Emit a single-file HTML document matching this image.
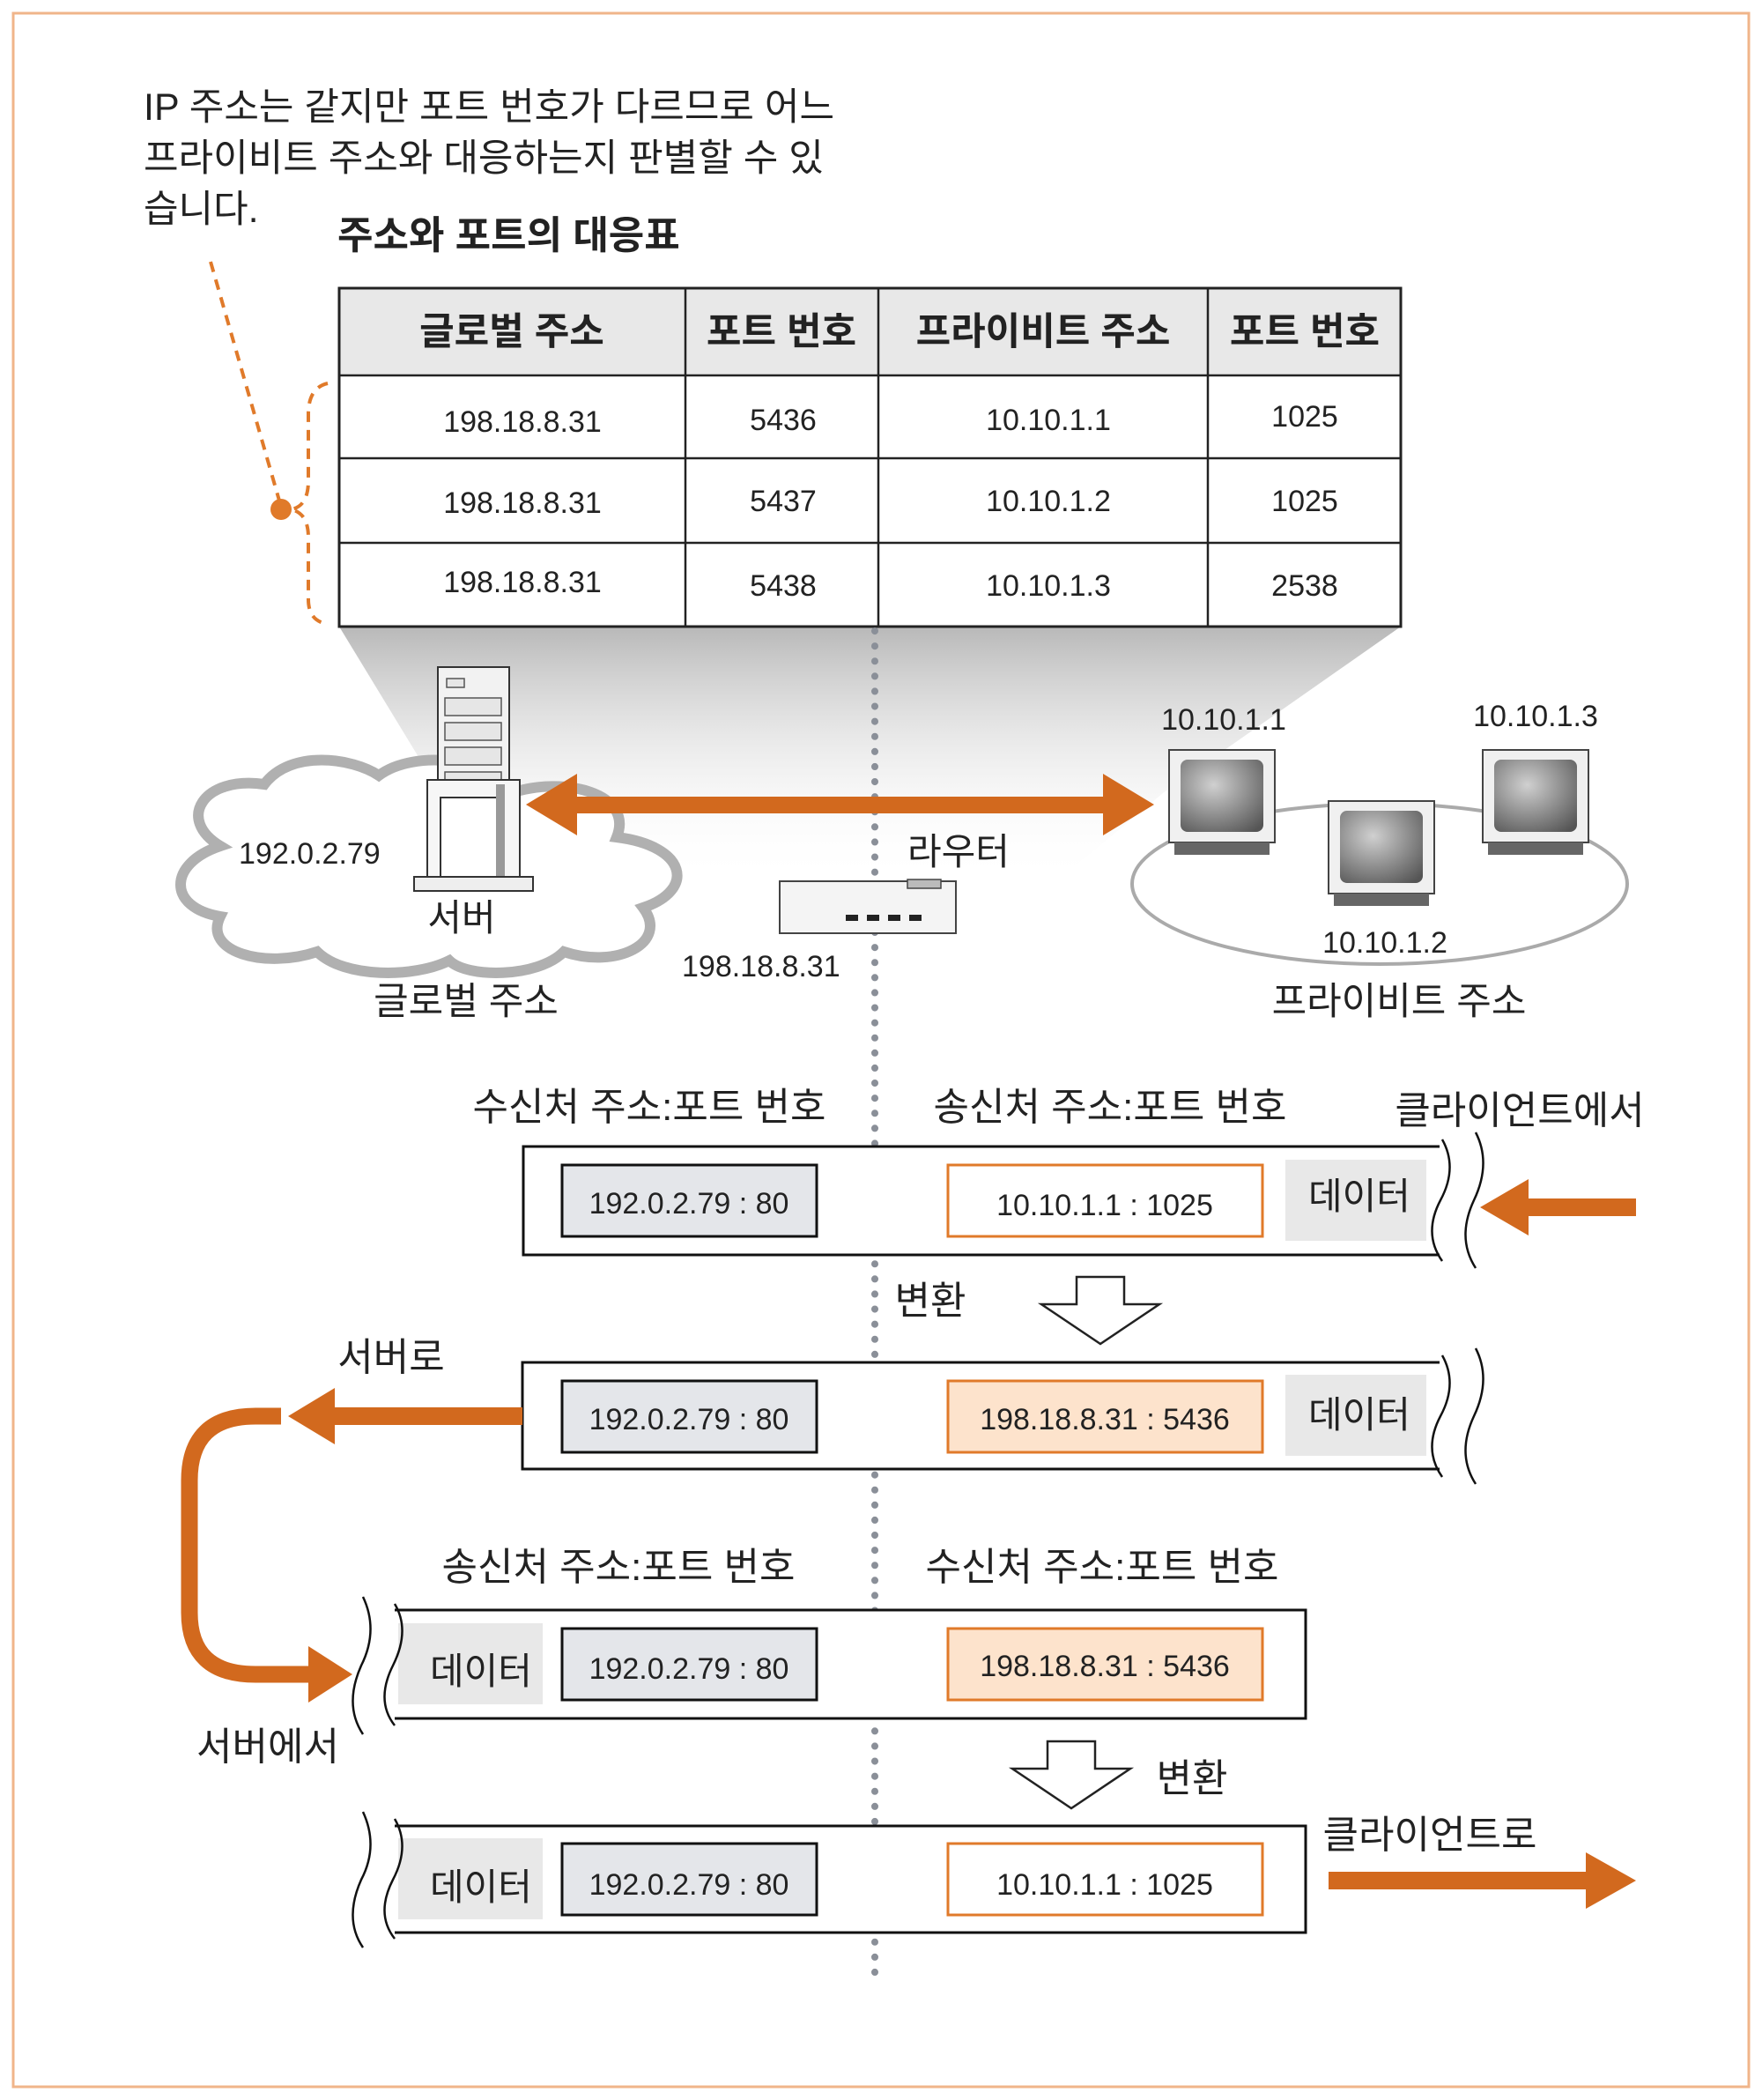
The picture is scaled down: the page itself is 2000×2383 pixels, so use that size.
<!DOCTYPE html>
<html><head><meta charset="utf-8"><style>
html,body{margin:0;padding:0;background:#fff}
svg{display:block}
text{font-family:"Liberation Sans","Noto Sans CJK KR",sans-serif;fill:#222}
</style></head><body>
<svg width="2000" height="2383" viewBox="0 0 2000 2383" xmlns="http://www.w3.org/2000/svg">
<defs>
<linearGradient id="sh" x1="0" y1="0" x2="0" y2="1">
<stop offset="0" stop-color="#b8b8b8"/><stop offset="1" stop-color="#ffffff" stop-opacity="0"/>
</linearGradient>
<radialGradient id="scr" cx="0.4" cy="0.35" r="0.8"><stop offset="0" stop-color="#d0d0d0"/><stop offset="1" stop-color="#555"/></radialGradient>
</defs>
<rect x="15" y="15" width="1970" height="2353" fill="#fff" stroke="#f0b58a" stroke-width="3"/>

<!-- caption -->
<text x="163" y="136" font-size="43">IP 주소는 같지만 포트 번호가 다르므로 어느</text>
<text x="163" y="194" font-size="43">프라이비트 주소와 대응하는지 판별할 수 있</text>
<text x="163" y="252" font-size="43">습니다.</text>
<text x="383" y="282" font-size="44" font-weight="bold">주소와 포트의 대응표</text>

<!-- dashed callout -->
<path d="M239 297 L319 575" stroke="#e07a2a" stroke-width="4" stroke-dasharray="12 9" fill="none"/>
<circle cx="319" cy="578" r="12" fill="#e07a2a"/>
<path d="M372 435 Q350 440 350 470 L350 545 Q350 575 330 578 Q350 582 350 610 L350 680 Q350 705 372 708" stroke="#e07a2a" stroke-width="4" stroke-dasharray="12 9" fill="none"/>

<!-- shadow under table -->
<polygon points="385,711 1590,711 1320,900 1200,1000 600,1000 500,900" fill="url(#sh)"/>

<!-- table -->
<rect x="385" y="327" width="1205" height="99" fill="#e8e8e8"/>
<rect x="385" y="327" width="1205" height="384" fill="none" stroke="#222" stroke-width="3"/>
<g stroke="#222" stroke-width="2.5">
<line x1="778" y1="327" x2="778" y2="711"/><line x1="997" y1="327" x2="997" y2="711"/><line x1="1371" y1="327" x2="1371" y2="711"/>
<line x1="385" y1="426" x2="1590" y2="426"/><line x1="385" y1="520" x2="1590" y2="520"/><line x1="385" y1="616" x2="1590" y2="616"/>
</g>
<g font-size="43" font-weight="bold" text-anchor="middle">
<text x="581" y="391">글로벌 주소</text><text x="887" y="391">포트 번호</text><text x="1184" y="391">프라이비트 주소</text><text x="1481" y="391">포트 번호</text>
</g>
<g font-size="34" text-anchor="middle">
<text x="593" y="490">198.18.8.31</text><text x="889" y="488">5436</text><text x="1190" y="488">10.10.1.1</text><text x="1481" y="484">1025</text>
<text x="593" y="582">198.18.8.31</text><text x="889" y="580">5437</text><text x="1190" y="580">10.10.1.2</text><text x="1481" y="580">1025</text>
<text x="593" y="672">198.18.8.31</text><text x="889" y="676">5438</text><text x="1190" y="676">10.10.1.3</text><text x="1481" y="676">2538</text>
</g>

<!-- dotted line -->
<line x1="993" y1="716" x2="993" y2="2252" stroke="#8a8f98" stroke-width="8" stroke-linecap="round" stroke-dasharray="0.1 17"/>

<!-- cloud -->
<path d="M250 960 C200 930 230 880 300 890 C330 850 400 860 430 880 C470 850 560 860 580 900 C640 880 720 900 700 950 C780 960 790 1010 730 1030 C760 1070 700 1100 640 1080 C610 1110 530 1110 510 1090 C470 1110 390 1110 360 1080 C300 1100 230 1080 250 1040 C190 1030 190 980 250 960 Z" fill="#fff" stroke="#b0b0b0" stroke-width="12"/>
<!-- server -->
<rect x="497" y="757" width="81" height="250" fill="#f2f2f2" stroke="#333" stroke-width="2"/>
<g fill="#e6e6e6" stroke="#555" stroke-width="1.5">
<rect x="507" y="770" width="20" height="10"/><rect x="505" y="792" width="64" height="20"/><rect x="505" y="820" width="64" height="20"/><rect x="505" y="848" width="64" height="20"/><rect x="505" y="876" width="64" height="20"/>
</g>
<path d="M485 885 L590 885 L590 1011 L485 1011 Z" fill="#f6f6f6" stroke="#333" stroke-width="2"/>
<rect x="500" y="905" width="70" height="106" fill="#fff" stroke="#333" stroke-width="2"/>
<rect x="563" y="890" width="10" height="121" fill="#999"/>
<rect x="470" y="995" width="135" height="16" fill="#eee" stroke="#333" stroke-width="2"/>
<text x="271" y="980" font-size="34">192.0.2.79</text>
<text x="524" y="1056" font-size="42" text-anchor="middle">서버</text>
<text x="529" y="1151" font-size="43" text-anchor="middle">글로벌 주소</text>

<!-- double arrow -->
<rect x="640" y="904" width="625" height="19" fill="#d2691e"/>
<polygon points="597,913 655,878 655,948" fill="#d2691e"/>
<polygon points="1310,913 1252,878 1252,948" fill="#d2691e"/>

<!-- router -->
<rect x="885" y="1000" width="200" height="59" fill="#f4f4f4" stroke="#444" stroke-width="2"/>
<rect x="1030" y="998" width="38" height="10" fill="#bbb" stroke="#444" stroke-width="1.5"/>
<g fill="#222"><rect x="960" y="1038" width="14" height="7"/><rect x="984" y="1038" width="14" height="7"/><rect x="1008" y="1038" width="14" height="7"/><rect x="1032" y="1038" width="14" height="7"/></g>
<text x="1030" y="981" font-size="42">라우터</text>
<text x="774" y="1108" font-size="34">198.18.8.31</text>

<!-- LAN -->
<ellipse cx="1566" cy="1003" rx="281" ry="91" fill="none" stroke="#aaa" stroke-width="4"/>
<g id="mon">
<rect x="1327" y="851" width="120" height="105" fill="#f0f0f0" stroke="#444" stroke-width="2"/>
<rect x="1340" y="862" width="94" height="82" rx="8" fill="url(#scr)"/>
<rect x="1333" y="956" width="108" height="14" fill="#666"/>
</g>
<use href="#mon" x="356" y="0"/>
<use href="#mon" x="181" y="58"/>
<text x="1389" y="828" font-size="34" text-anchor="middle">10.10.1.1</text>
<text x="1743" y="824" font-size="34" text-anchor="middle">10.10.1.3</text>
<text x="1572" y="1081" font-size="34" text-anchor="middle">10.10.1.2</text>
<text x="1588" y="1151" font-size="43" text-anchor="middle">프라이비트 주소</text>

<!-- headers -->
<g font-size="44" text-anchor="middle">
<text x="737" y="1271">수신처 주소:포트 번호</text>
<text x="1260" y="1271">송신처 주소:포트 번호</text>
<text x="1725" y="1275">클라이언트에서</text>
<text x="702" y="1793">송신처 주소:포트 번호</text>
<text x="1251" y="1793">수신처 주소:포트 번호</text>
<text x="444" y="1555">서버로</text>
<text x="304" y="1997">서버에서</text>
<text x="1623" y="2097">클라이언트로</text>
<text x="1056" y="1491">변환</text>
<text x="1353" y="2033">변환</text>
</g>

<!-- packet 1 -->
<rect x="594" y="1301" width="1045" height="123" fill="#fff" stroke="#111" stroke-width="3"/>
<rect x="1459" y="1316" width="160" height="92" fill="#e8e8e8"/>
<rect x="638" y="1322" width="289" height="81" fill="#e4e6ea" stroke="#111" stroke-width="3"/>
<rect x="1076" y="1322" width="357" height="81" fill="#fff" stroke="#e07a2a" stroke-width="3"/>
<text x="782" y="1377" font-size="34" text-anchor="middle">192.0.2.79 : 80</text>
<text x="1254" y="1379" font-size="34" text-anchor="middle">10.10.1.1 : 1025</text>
<text x="1543" y="1372" font-size="42" text-anchor="middle">데이터</text>
<rect x="1634" y="1291" width="40" height="142" fill="#fff"/>
<path d="M1637 1293 Q1655 1325 1635 1362 Q1615 1400 1637 1431" fill="none" stroke="#111" stroke-width="2.5"/>
<path d="M1675 1285 Q1693 1320 1673 1362 Q1653 1405 1675 1439" fill="none" stroke="#111" stroke-width="2.5"/>
<rect x="1730" y="1360" width="127" height="20" fill="#d2691e"/>
<polygon points="1680,1370 1735,1338 1735,1402" fill="#d2691e"/>

<!-- hollow arrow 1 -->
<polygon points="1222,1449 1276,1449 1276,1480 1316,1480 1249,1525 1182,1480 1222,1480" fill="#fff" stroke="#222" stroke-width="2.5"/>

<!-- packet 2 -->
<rect x="593" y="1546" width="1052" height="121" fill="#fff" stroke="#111" stroke-width="3"/>
<rect x="1459" y="1560" width="160" height="92" fill="#e8e8e8"/>
<rect x="638" y="1567" width="289" height="81" fill="#e4e6ea" stroke="#111" stroke-width="3"/>
<rect x="1076" y="1567" width="357" height="81" fill="#fde3cc" stroke="#e07a2a" stroke-width="3"/>
<text x="782" y="1622" font-size="34" text-anchor="middle">192.0.2.79 : 80</text>
<text x="1254" y="1622" font-size="34" text-anchor="middle">198.18.8.31 : 5436</text>
<text x="1543" y="1620" font-size="42" text-anchor="middle">데이터</text>
<rect x="1634" y="1536" width="40" height="142" fill="#fff"/>
<path d="M1637 1538 Q1655 1570 1635 1607 Q1615 1645 1637 1676" fill="none" stroke="#111" stroke-width="2.5"/>
<path d="M1675 1530 Q1693 1565 1673 1607 Q1653 1650 1675 1684" fill="none" stroke="#111" stroke-width="2.5"/>
<rect x="370" y="1597" width="223" height="20" fill="#d2691e"/>
<polygon points="327,1607 380,1575 380,1639" fill="#d2691e"/>
<path d="M319 1607 L290 1607 Q215 1607 215 1680 L215 1830 Q215 1900 290 1900 L360 1900" fill="none" stroke="#d2691e" stroke-width="19"/>
<polygon points="400,1900 350,1868 350,1932" fill="#d2691e"/>

<!-- packet 3 -->
<rect x="441" y="1827" width="1041" height="123" fill="#fff" stroke="#111" stroke-width="3"/>
<rect x="452" y="1842" width="164" height="92" fill="#e8e8e8"/>
<rect x="638" y="1848" width="289" height="81" fill="#e4e6ea" stroke="#111" stroke-width="3"/>
<rect x="1076" y="1848" width="357" height="81" fill="#fde3cc" stroke="#e07a2a" stroke-width="3"/>
<text x="546" y="1911" font-size="42" text-anchor="middle">데이터</text>
<text x="782" y="1905" font-size="34" text-anchor="middle">192.0.2.79 : 80</text>
<text x="1254" y="1902" font-size="34" text-anchor="middle">198.18.8.31 : 5436</text>
<rect x="408" y="1815" width="40" height="145" fill="#fff"/>
<path d="M448 1820 Q466 1850 446 1890 Q426 1930 448 1958" fill="none" stroke="#111" stroke-width="2.5"/>
<path d="M412 1812 Q430 1850 410 1890 Q390 1935 412 1968" fill="none" stroke="#111" stroke-width="2.5"/>

<!-- hollow arrow 2 -->
<polygon points="1189,1976 1243,1976 1243,2007 1283,2007 1216,2052 1149,2007 1189,2007" fill="#fff" stroke="#222" stroke-width="2.5"/>

<!-- packet 4 -->
<rect x="441" y="2072" width="1041" height="121" fill="#fff" stroke="#111" stroke-width="3"/>
<rect x="452" y="2086" width="164" height="92" fill="#e8e8e8"/>
<rect x="638" y="2092" width="289" height="81" fill="#e4e6ea" stroke="#111" stroke-width="3"/>
<rect x="1076" y="2092" width="357" height="81" fill="#fff" stroke="#e07a2a" stroke-width="3"/>
<text x="546" y="2156" font-size="42" text-anchor="middle">데이터</text>
<text x="782" y="2150" font-size="34" text-anchor="middle">192.0.2.79 : 80</text>
<text x="1254" y="2150" font-size="34" text-anchor="middle">10.10.1.1 : 1025</text>
<rect x="408" y="2060" width="40" height="145" fill="#fff"/>
<path d="M448 2064 Q466 2095 446 2133 Q426 2172 448 2200" fill="none" stroke="#111" stroke-width="2.5"/>
<path d="M412 2056 Q430 2095 410 2133 Q390 2178 412 2210" fill="none" stroke="#111" stroke-width="2.5"/>
<rect x="1508" y="2124" width="300" height="20" fill="#d2691e"/>
<polygon points="1857,2134 1800,2102 1800,2166" fill="#d2691e"/>
</svg>
</body></html>
